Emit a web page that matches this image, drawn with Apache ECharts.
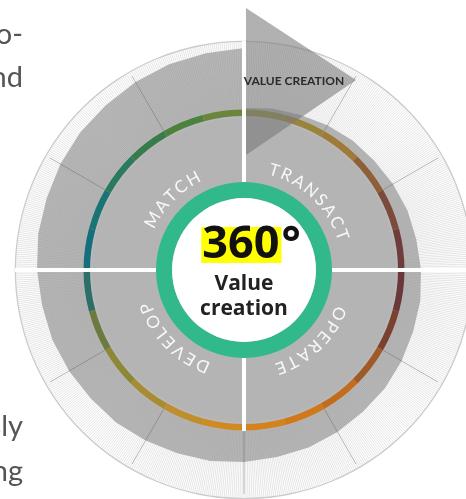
<!DOCTYPE html>
<html><head><meta charset="utf-8">
<script src="https://cdn.jsdelivr.net/npm/echarts@6/dist/echarts.min.js"></script>
<style>html,body{margin:0;padding:0;background:#fff}#c{width:466px;height:499px}</style>
</head><body><div id="c"></div>
<script>
// ---- data ----
const spiralAngles = [0,10,20,30,40,50,60,70,80,90,100,110,120,130,140,150,160,170,180,190,200,210,220,230,240,250,260,270,280,290,300,310,320,330,340,350,360];
const spiralRadii  = [162,164,165,167,169,170,172,174,175,177,179,180,182,184,185,187,189,190,192,194,195,197,199,200,202,204,205,207,209,210,212,214,215,217,219,220,222];
const ringColors = ['#8c8a3c','#98843a','#a07a38','#8e6038','#7a4a3a','#6e3c3a','#6a3838','#7a4030','#a05a28','#c46c1e','#d0781c','#d4821e','#d08a24','#c08e2c','#a88c34','#8e8836','#6a7a40','#2e6e68','#146e7c','#1a7474','#2a7a62','#387c4c','#4a823e','#6a863c'];
const quadrantLabels = ['MATCH','TRANSACT','OPERATE','DEVELOP'];
const quadrantAngles = [-45.5, 43.5, 136.5, 225.5];
const centerBig = '360';
const centerDeg = '°';
const centerLines = ['Value','creation'];
const arrowLabel = 'VALUE CREATION';
const sideText = ['o-','nd','sly','ng'];
const sideBaselines = [45, 88, 437, 482];

// ---- layout ----
const cx = 244, cy = 270;
const chart = echarts.init(document.getElementById('c'), null, {renderer:'canvas'});

function hiddenRadius(i){return {polarIndex:i,type:'value',min:0,max:222,axisLine:{show:false},axisTick:{show:false},axisLabel:{show:false},splitLine:{show:false}};}
function angle(i, interval, ls, z){return {polarIndex:i,type:'value',min:0,max:360,startAngle:90,interval:interval,z:z,
  axisLine:{show:false},axisTick:{show:false},axisLabel:{show:false},splitLine:{show:!!ls,lineStyle:ls||{}}};}

const pieBase = {type:'pie',center:[cx,cy],silent:true,label:{show:false},labelLine:{show:false},emphasis:{disabled:true},z:2,startAngle:90};

const series = [
  {type:'line',coordinateSystem:'polar',polarIndex:0,data:spiralRadii.map((r,i)=>[r,spiralAngles[i]]),
   symbol:'none',lineStyle:{width:0},areaStyle:{color:'#b8b8b8',opacity:1},z:1,silent:true},
  Object.assign({},pieBase,{radius:[228,229.3],data:[{value:1,itemStyle:{color:'#cccccc'}}]}),
  Object.assign({},pieBase,{radius:[154,160.5],data:ringColors.map(c=>({value:1,itemStyle:{color:c}}))}),
  Object.assign({},pieBase,{radius:[0,152],data:[{value:1,itemStyle:{color:'#b4b4b4'}}]}),
  Object.assign({},pieBase,{radius:[72,88],data:[{value:1,itemStyle:{color:'#31b98c'}}]}),
  Object.assign({},pieBase,{radius:[0,72],data:[{value:1,itemStyle:{color:'#ffffff'}}]})
];

// curved letters
const mc = document.createElement('canvas').getContext('2d');
const letterFont = '17px Lato';
mc.font = letterFont;
const spacing = 2.8, rText = 104;
const graphics = [];
quadrantLabels.forEach((w, k) => {
  const ws = [...w].map(ch => mc.measureText(ch).width);
  const total = ws.reduce((a,b)=>a+b,0) + spacing*(ws.length-1);
  let cur = -total/2;
  [...w].forEach((ch, j) => {
    const mid = cur + ws[j]/2;
    const th = (quadrantAngles[k]*Math.PI/180) + mid/rText;
    graphics.push({type:'text', x: cx + rText*Math.sin(th), y: cy - rText*Math.cos(th), rotation: -th, z:20,
      style:{text:ch, font:letterFont, fill:'#f8f8f8', align:'center', verticalAlign:'middle'}});
    cur += ws[j] + spacing;
  });
});

// arrow
graphics.push({type:'polygon', z:15, shape:{points:[[cx+2,8],[cx+112,80],[cx+2,155]]}, style:{fill:'rgba(120,120,120,0.58)'}});
graphics.push({type:'text', x: cx+50, y: 81, z:21, style:{text:arrowLabel, font:'bold 12px Lato', fill:'#2a2a2a', align:'center', verticalAlign:'middle'}});

// centre text
graphics.push({type:'text', x: 251, y: 245, z:22, style:{text:'{a|'+centerBig+'}{b|'+centerDeg+'}', align:'center', verticalAlign:'middle',
  rich:{a:{fontSize:45,fontWeight:'bold',fontFamily:'Open Sans',fill:'#111',backgroundColor:'#ffff00',height:36,lineHeight:36,padding:[0,2,0,1]},
        b:{fontSize:45,fontWeight:'bold',fontFamily:'Open Sans',fill:'#111',lineHeight:36}}}});
centerLines.forEach((t,i)=>graphics.push({type:'text', x: cx, y: 284 + i*25, z:22, style:{text:t, font:'bold 21px "Open Sans"', fill:'#222', align:'center', verticalAlign:'middle'}}));

// side paragraph fragments
sideText.forEach((t,i)=>graphics.push({type:'text', x: 23, y: sideBaselines[i]-10, z:22, style:{text:t, font:'29px Lato', fill:'#555555', align:'right', verticalAlign:'middle'}}));

chart.setOption({
  animation:false,
  backgroundColor:'#ffffff',
  polar:[
    {center:[cx,cy], radius:222},
    {center:[cx,cy], radius:[161,228]},
    {center:[cx,cy], radius:[161,224]},
    {center:[cx,cy], radius:[88,161]},
    {center:[cx,cy], radius:[161,229]}
  ],
  radiusAxis:[0,1,2,3,4].map(hiddenRadius),
  angleAxis:[
    angle(0, 90, null, 0),
    angle(1, 0.5, {color:'rgba(140,140,140,0.45)', width:0.5}, 5),
    angle(2, 30, {color:'rgba(80,80,80,0.45)', width:0.8}, 6),
    angle(3, 90, {color:'#ffffff', width:4}, 7),
    angle(4, 90, {color:['#ffffff','#ffffff','rgba(0,0,0,0)','#ffffff','#ffffff'], width:4}, 7)
  ],
  series: series,
  graphic: graphics
});
</script></body></html>
